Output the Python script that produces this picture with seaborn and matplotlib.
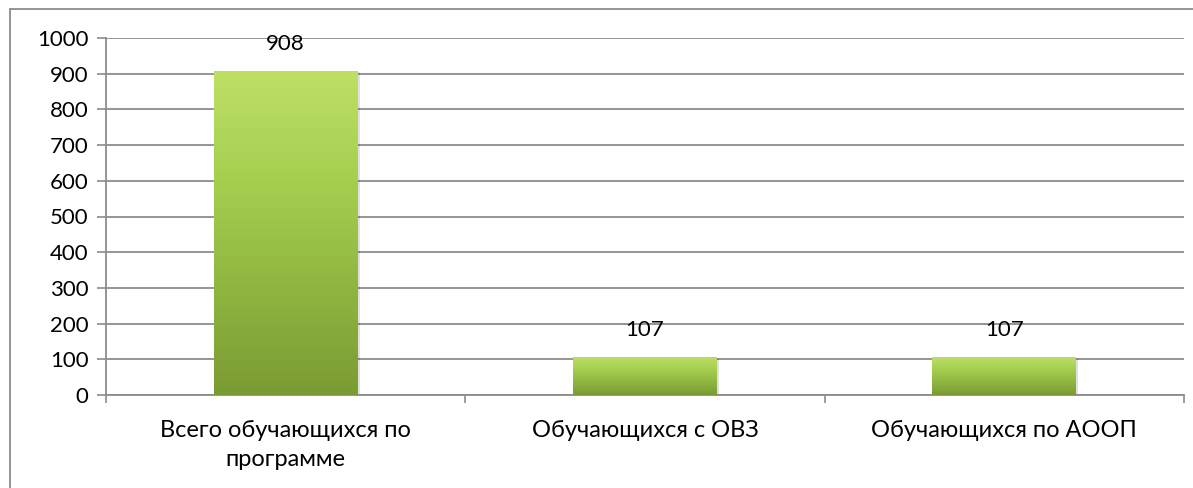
import numpy as np
import pandas as pd
import matplotlib
matplotlib.use("Agg")
import matplotlib.pyplot as plt
import seaborn as sns
from matplotlib.colors import LinearSegmentedColormap
from matplotlib.lines import Line2D

categories = ["Всего обучающихся по\nпрограмме", "Обучающихся с ОВЗ", "Обучающихся по АООП"]
values = [908, 107, 107]
yticks = [0, 100, 200, 300, 400, 500, 600, 700, 800, 900, 1000]

sns.set_theme(style="white")
plt.rcParams['font.family'] = ['Lato', 'DejaVu Sans']

df = pd.DataFrame({"cat": categories, "val": values})

fig = plt.figure(figsize=(11.93, 4.88), dpi=100)
ax = fig.add_axes([106/1193, 1-395/488, (1184-106)/1193, (395-38)/488])

sns.barplot(data=df, x="cat", y="val", ax=ax, color="#9bc74a", width=0.4,
            edgecolor="none", zorder=3)

cmap = LinearSegmentedColormap.from_list("g", ["#bde065", "#a6cf50", "#90b640", "#7a9b33"])
grad = np.linspace(0, 1, 256).reshape(-1, 1)
for p in ax.patches[:len(values)]:
    x0, y0 = p.get_x(), p.get_y()
    w, h = p.get_width(), p.get_height()
    im = ax.imshow(grad, extent=[x0, x0 + w, y0, y0 + h], cmap=cmap, aspect="auto",
                   zorder=4, origin="upper")
    im.set_clip_path(p)
    ax.add_patch(plt.Rectangle((x0 + 0.006, y0), w, h - 3, facecolor="#000000", alpha=0.12,
                               zorder=2, edgecolor="none"))
    ax.annotate(f"{int(round(h))}", (x0 + w / 2, y0 + h), xytext=(0, 19),
                textcoords="offset points", ha="center", va="center",
                fontsize=16, color="#000000", zorder=5)

ax.set_xlim(-0.5, 2.5)
ax.set_ylim(0, 1000)
ax.set_yticks(yticks)
ax.set_yticklabels([str(t) for t in yticks], fontsize=16, color="#000000")
ax.set_xticks([0, 1, 2])
ax.set_xticklabels(categories, fontsize=17, color="#000000", linespacing=1.45)
ax.set_xticks([-0.5, 0.5, 1.5, 2.5], minor=True)
ax.tick_params(axis="x", which="major", length=0, pad=18)
ax.tick_params(axis="x", which="minor", length=6, width=1.2, color="#8c8c8c", direction="out", bottom=True)
ax.tick_params(axis="y", length=6.5, width=1.2, color="#8c8c8c", direction="out", left=True, pad=6)
ax.set_xlabel("")
ax.set_ylabel("")
ax.yaxis.grid(True, color="#8c8c8c", linewidth=1.3, zorder=0)
ax.set_axisbelow(True)
for s in ["top", "right"]:
    ax.spines[s].set_visible(False)
for s in ["left", "bottom"]:
    ax.spines[s].set_color("#8c8c8c")
    ax.spines[s].set_linewidth(1.3)

fig.add_artist(Line2D([10/1193, 10/1193], [0, 1-9/488], color="#8c8c8c", linewidth=1.3,
                      transform=fig.transFigure))
fig.add_artist(Line2D([10/1193, 1], [1-9/488, 1-9/488], color="#8c8c8c", linewidth=1.3,
                      transform=fig.transFigure))

fig.savefig("out.png", dpi=100, facecolor="white")
